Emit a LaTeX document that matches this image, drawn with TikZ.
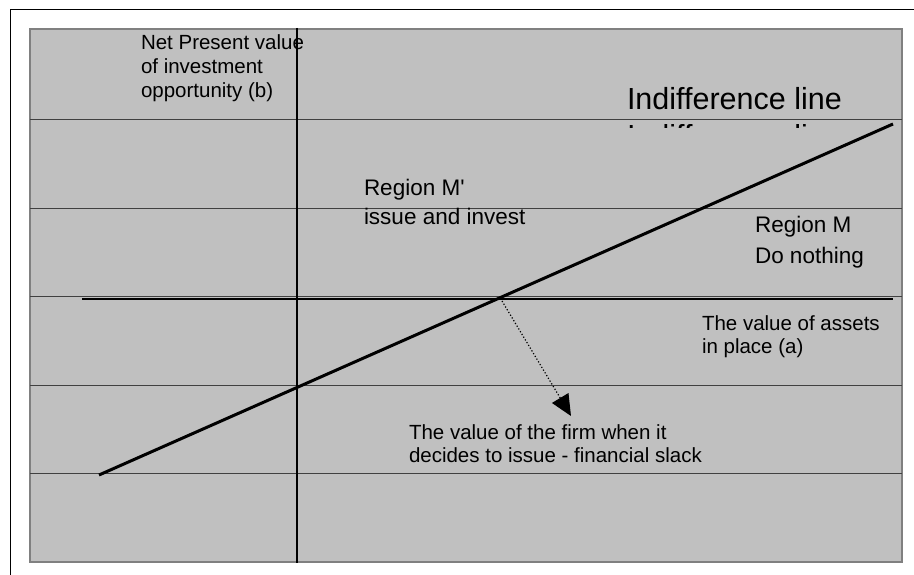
\documentclass[tikz,border=0pt]{standalone}
\usepackage{fontspec}
\setmainfont{Liberation Sans}
\newfontfamily\rawfont{Liberation Sans}[Ligatures=TeXOff]
\usetikzlibrary{arrows.meta}
\definecolor{plotbg}{HTML}{C0C0C0}
\definecolor{plotborder}{HTML}{808080}
\definecolor{gridc}{HTML}{404040}
\begin{document}
\begin{tikzpicture}[x=1pt,y=-1pt,
  gridline/.style={draw=gridc, line width=0.9pt},
  axisline/.style={draw=black, line width=1.3pt},
  lbl/.style={anchor=base west, inner sep=0pt, outer sep=0pt, font=\fontsize{20.5}{24}\selectfont},
  midlbl/.style={anchor=base west, inner sep=0pt, outer sep=0pt, font=\fontsize{22.5}{26}\selectfont},
  biglbl/.style={anchor=base west, inner sep=0pt, outer sep=0pt, font=\fontsize{30.5}{36}\selectfont},
  indiff/.style={draw=black, line width=3pt},
  slackarrow/.style={draw=black, line width=1.2pt, dotted, -{Triangle[length=21pt,width=19pt]}}]
\useasboundingbox (0,0) rectangle (914,575);
\fill[white] (0,0) rectangle (914,575);
% outer frame (only top and left visible)
\draw[black, line width=1pt] (10,575) -- (10,10) -- (914,10);
% plot area
\filldraw[fill=plotbg, draw=plotborder, line width=2.2pt] (30,29) rectangle (902,562);
% grid lines
\foreach \yy in {119,208,296,385,473}{
  \draw[gridline] (30,\yy) -- (902,\yy);
}
% hidden copy of label (only ascender tops visible)
\begin{scope}
  \clip (600,124.3) rectangle (830,127.6);
  \node[biglbl] (ghost) at (627,146.5) {Indifference line};
\end{scope}
% texts
\node[lbl] (yl1) at (141,50) {Net Present value};
\node[lbl] (yl2) at (141,74) {of investment};
\node[lbl] (yl3) at (141,98) {opportunity (b)};
\node[biglbl] (ind) at (627,110) {Indifference line};
\node[midlbl] (rm1) at (364,196) {{\rawfont Region M'}};
\node[midlbl] (rm2) at (364,225) {issue and invest};
\node[midlbl] (rn1) at (755,233) {Region M};
\node[midlbl] (rn2) at (755,263) {Do nothing};
\node[lbl] (xa1) at (702,330) {The value of assets};
\node[lbl] (xa2) at (702,353) {in place (a)};
\node[lbl] (fs1) at (409,439) {The value of the firm when it};
\node[lbl] (fs2) at (409,462) {decides to issue - financial slack};
% axes
\coordinate (ytop) at (297,28);
\coordinate (ybot) at (297,563);
\coordinate (xleft) at (82,299);
\coordinate (xright) at (893,299);
\draw[axisline] (ytop) -- (ybot);
\draw[axisline] (xleft) -- (xright);
% indifference line
\coordinate (ilow) at (99,475);
\coordinate (ihigh) at (893,124);
\draw[indiff] (ilow) -- (ihigh);
% arrow to financial slack
\coordinate (astart) at (502,301);
\coordinate (aend) at (571,416);
\draw[slackarrow] (astart) -- (aend);
\end{tikzpicture}
\end{document}
